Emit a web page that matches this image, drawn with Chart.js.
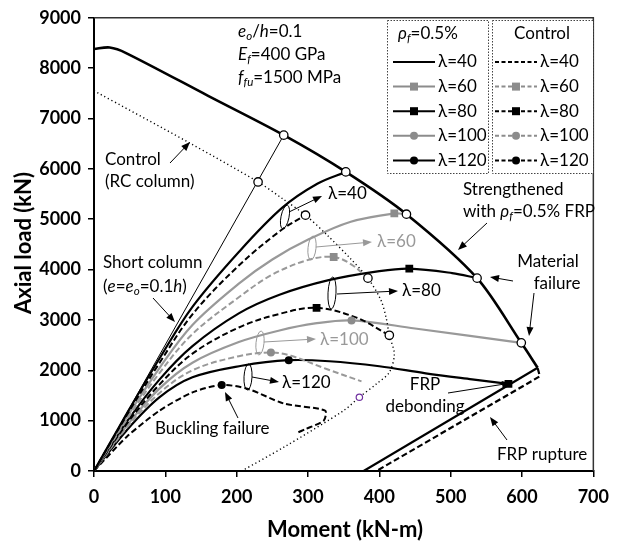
<!DOCTYPE html>
<html>
<head>
<meta charset="utf-8">
<script src="https://cdn.jsdelivr.net/npm/chart.js@4.4.1/dist/chart.umd.min.js"></script>
<style>
  html, body { margin: 0; padding: 0; background: #fff; }
</style>
</head>
<body>
<canvas id="chart" width="618" height="548"></canvas>
<script>
// axis ticks
const momentTicks = [0, 100, 200, 300, 400, 500, 600, 700];
const momentTickLabels = ['0', '100', '200', '300', '400', '500', '600', '700'];
const loadTicks = [0, 1000, 2000, 3000, 4000, 5000, 6000, 7000, 8000, 9000];
const loadTickLabels = ['0', '1000', '2000', '3000', '4000', '5000', '6000', '7000', '8000', '9000'];

// interaction diagrams [moment, load]
const frpEnvelope = [[0, 8380], [22, 8410], [45, 8300], [160, 7450], [266, 6670], [353, 5940], [438, 5100], [537, 3830], [599, 2545], [622, 2050]];
const frpLowerBranch = [[622, 2050], [378, 0]];
const ruptureBranch = [[622, 2040], [625, 1880], [396, 0]];
const controlRC = [[0, 7550], [132, 6530], [230, 5740], [265, 5400], [296.5, 5080], [326.5, 4690], [359, 4225], [384, 3830], [402, 3400], [409.5, 3045], [414, 2695], [421, 2320], [414, 1960], [396, 1730], [372, 1465], [350, 1200], [267, 480], [207, 0]];
const shortColumn = [[0, 0], [266, 6670]];

// load paths, FRP strengthened (frp) and control (ctl)
const frp40 = [[0, 0], [46, 1140], [92, 2240], [138, 3260], [203, 4350], [264, 5230], [313, 5705], [353, 5940]];
const ctl40 = [[0, 0], [46, 1110], [92, 2150], [138, 3110], [203, 4080], [264, 4800], [296.5, 5080]];
const frp60 = [[0, 0], [46, 1070], [92, 2050], [138, 2900], [203, 3720], [250, 4200], [301, 4600], [360, 4950], [421, 5115], [438, 5100]];
const ctl60 = [[0, 0], [46, 1020], [92, 1950], [138, 2720], [203, 3450], [250, 3900], [301, 4195], [336, 4250], [360, 4110], [384, 3830]];
const frp80 = [[0, 0], [46, 980], [92, 1820], [138, 2480], [203, 3130], [260, 3500], [329, 3790], [400, 3970], [442, 4020], [502, 3930], [537, 3830]];
const ctl80 = [[0, 0], [46, 940], [92, 1720], [138, 2330], [203, 2850], [260, 3120], [312, 3240], [368, 3045], [414, 2695]];
const frp100 = [[0, 0], [46, 900], [92, 1640], [138, 2150], [203, 2560], [260, 2790], [310, 2930], [361, 2990], [450, 2830], [599, 2545]];
const ctl100 = [[0, 0], [46, 860], [92, 1550], [138, 2000], [203, 2280], [248, 2355], [276, 2290], [326, 2025], [375, 1780]];
const frp120 = [[0, 0], [46, 810], [92, 1465], [138, 1860], [207, 2090], [273, 2200], [330, 2180], [400, 2080], [465, 1940], [530, 1820], [581, 1730]];
const ctl120 = [[0, 0], [46, 680], [92, 1200], [138, 1560], [179, 1710], [216, 1630], [266, 1340], [324, 1200], [322, 1000], [296, 830], [285, 760]];

// failure points
const openPoints = [[266, 6670], [230, 5740], [353, 5940], [296.5, 5080], [438, 5100], [384, 3830], [537, 3830], [414, 2695], [599, 2545]];
const graySquares = [[421, 5115], [336, 4250]];
const blackSquares = [[442, 4020], [312, 3240], [581, 1730]];
const grayDots = [[361, 2990], [248, 2355]];
const blackDots = [[273, 2200], [179, 1710]];
const purplePoint = [[372, 1465]];

const GRAY = '#999999';
const GRAYMK = '#8c8c8c';
const FONT = 'Lato, "Open Sans", sans-serif';

const xy = arr => arr.map(p => ({ x: p[0], y: p[1] }));

function line(data, color, width, dash, tension) {
  return {
    data: xy(data), showLine: true, borderColor: color, borderWidth: width,
    borderDash: dash || [], pointRadius: 0, tension: tension == null ? 0.35 : tension,
    fill: false, order: 2
  };
}
function marks(data, style, radius, fill, stroke, bw) {
  return {
    data: xy(data), showLine: false, pointStyle: style, pointRadius: radius,
    backgroundColor: fill, borderColor: stroke, borderWidth: bw, order: 0
  };
}

const DASH = [6, 3];
const datasets = [
  line(controlRC, '#000', 1.4, [1.2, 2.8], 0.3),
  line(shortColumn, '#000', 1, [], 0),
  line(frpEnvelope, '#000', 2.6, [], 0.3),
  line(frpLowerBranch, '#000', 2.2, [], 0),
  line(ruptureBranch, '#000', 2.2, DASH, 0),
  line(frp40, '#000', 2.2), line(ctl40, '#000', 2, DASH),
  line(frp60, GRAY, 2.2), line(ctl60, GRAY, 2, DASH),
  line(frp80, '#000', 2.2), line(ctl80, '#000', 2, DASH),
  line(frp100, GRAY, 2.2), line(ctl100, GRAY, 2, DASH),
  line(frp120, '#000', 2.2), line(ctl120, '#000', 2, DASH, 0.25),
  marks(openPoints, 'circle', 4.2, '#fff', '#000', 1.3),
  marks(graySquares, 'rect', 5.5, GRAYMK, GRAYMK, 0),
  marks(blackSquares, 'rect', 5.5, '#000', '#000', 0),
  marks(grayDots, 'circle', 4, GRAYMK, GRAYMK, 0),
  marks(blackDots, 'circle', 4, '#000', '#000', 0),
  marks(purplePoint, 'circle', 3.2, '#fff', '#7030a0', 1.2)
];

// text with italic / subscript runs
function rich(ctx, runs, x, y, size, color, align) {
  const pieces = runs.map(r => {
    const s = r.sub ? size * 0.68 : size;
    const f = (r.it ? 'italic ' : '') + s + 'px ' + FONT;
    ctx.font = f;
    return { t: r.t, f, w: ctx.measureText(r.t).width, dy: r.sub ? size * 0.28 : 0 };
  });
  const total = pieces.reduce((a, p) => a + p.w, 0);
  let cx = align === 'center' ? x - total / 2 : x;
  ctx.fillStyle = color || '#000';
  ctx.textBaseline = 'middle';
  ctx.textAlign = 'left';
  pieces.forEach(p => { ctx.font = p.f; ctx.fillText(p.t, cx, y + p.dy); cx += p.w; });
}
const T = (t, it, sub) => ({ t, it, sub });

function arrow(ctx, x1, y1, x2, y2, color) {
  const a = Math.atan2(y2 - y1, x2 - x1);
  ctx.strokeStyle = color; ctx.fillStyle = color; ctx.lineWidth = 1;
  ctx.setLineDash([]);
  ctx.beginPath(); ctx.moveTo(x1, y1); ctx.lineTo(x2 - 6 * Math.cos(a), y2 - 6 * Math.sin(a)); ctx.stroke();
  ctx.beginPath();
  ctx.moveTo(x2, y2);
  ctx.lineTo(x2 - 9 * Math.cos(a) + 3.5 * Math.sin(a), y2 - 9 * Math.sin(a) - 3.5 * Math.cos(a));
  ctx.lineTo(x2 - 9 * Math.cos(a) - 3.5 * Math.sin(a), y2 - 9 * Math.sin(a) + 3.5 * Math.cos(a));
  ctx.closePath(); ctx.fill();
}
function ellipse(ctx, x, y, rx, ry, rot, color) {
  ctx.strokeStyle = color; ctx.lineWidth = 1; ctx.setLineDash([]);
  ctx.beginPath(); ctx.ellipse(x, y, rx, ry, rot, 0, Math.PI * 2); ctx.stroke();
}

function legendSample(ctx, x1, x2, y, color, dash, marker) {
  ctx.save();
  ctx.strokeStyle = color; ctx.lineWidth = 2; ctx.setLineDash(dash);
  ctx.beginPath(); ctx.moveTo(x1, y); ctx.lineTo(x2, y); ctx.stroke();
  ctx.setLineDash([]); ctx.fillStyle = color;
  const cx = (x1 + x2) / 2;
  if (marker === 'rect') ctx.fillRect(cx - 4, y - 4, 8, 8);
  if (marker === 'circle') { ctx.beginPath(); ctx.arc(cx, y, 4, 0, Math.PI * 2); ctx.fill(); }
  ctx.restore();
}

const decor = {
  id: 'decor',
  afterDatasetsDraw(chart) {
    const ctx = chart.ctx;
    const a = chart.chartArea;
    ctx.save();
    // frame top / right
    ctx.strokeStyle = '#333'; ctx.lineWidth = 1.5;
    ctx.beginPath(); ctx.moveTo(a.left, a.top); ctx.lineTo(a.right, a.top); ctx.lineTo(a.right, a.bottom); ctx.stroke();

    // group ellipses
    ellipse(ctx, 285, 217, 4, 12, 0.2, '#000');
    ellipse(ctx, 312, 248, 4, 12, 0.1, GRAY);
    ellipse(ctx, 332, 293, 4, 16, 0.05, '#000');
    ellipse(ctx, 260, 343, 4, 12, 0.1, GRAY);
    ellipse(ctx, 248, 377, 4, 13, 0.05, '#000');

    // arrows
    arrow(ctx, 170, 163, 190, 142, '#000');
    arrow(ctx, 153, 298, 175, 322, '#000');
    arrow(ctx, 289, 212, 322, 196, '#000');
    arrow(ctx, 316, 247, 372, 242, GRAY);
    arrow(ctx, 337, 294, 398, 291, '#000');
    arrow(ctx, 264, 342, 316, 339, GRAY);
    arrow(ctx, 252, 377, 279, 382, '#000');
    arrow(ctx, 238, 418, 225, 392, '#000');
    arrow(ctx, 487, 223, 458, 250, '#000');
    arrow(ctx, 513, 281, 490, 277, '#000');
    arrow(ctx, 534, 293, 529, 336, '#000');
    arrow(ctx, 448, 393, 511, 383, '#000');
    arrow(ctx, 507, 440, 490, 417, '#000');

    // annotation text
    const S = 17;
    rich(ctx, [T('e', 1), T('o', 1, 1), T('/'), T('h', 1), T('=0.1')], 238, 32, S);
    rich(ctx, [T('E', 1), T('f', 1, 1), T('=400 GPa')], 238, 55, S);
    rich(ctx, [T('f', 1), T('fu', 1, 1), T('=1500 MPa')], 238, 78, S);
    rich(ctx, [T('Control')], 105, 160, S);
    rich(ctx, [T('(RC column)')], 105, 182, S);
    rich(ctx, [T('Short column')], 103, 263, S);
    rich(ctx, [T('('), T('e', 1), T('='), T('e', 1), T('o', 1, 1), T('=0.1'), T('h', 1), T(')')], 103, 287, S);
    rich(ctx, [T('λ=40')], 328, 194, S);
    rich(ctx, [T('λ=60')], 377, 242, S, GRAY);
    rich(ctx, [T('λ=80')], 402, 291, S);
    rich(ctx, [T('λ=100')], 320, 340, S, GRAY);
    rich(ctx, [T('λ=120')], 282, 383, S);
    rich(ctx, [T('Buckling failure')], 155, 429, S);
    rich(ctx, [T('Strengthened')], 463, 190, S);
    rich(ctx, [T('with '), T('ρ', 1), T('f', 1, 1), T('=0.5% FRP')], 463, 212, S);
    rich(ctx, [T('Material')], 548, 262, S, '#000', 'center');
    rich(ctx, [T('failure')], 557, 284, S, '#000', 'center');
    rich(ctx, [T('FRP')], 425, 385, S, '#000', 'center');
    rich(ctx, [T('debonding')], 425, 407, S, '#000', 'center');
    rich(ctx, [T('FRP rupture')], 497, 455, S);

    // legend boxes
    ctx.fillStyle = '#fff';
    ctx.fillRect(387, 20, 206, 154);
    ctx.strokeStyle = '#444'; ctx.lineWidth = 1; ctx.setLineDash([1.5, 1.5]);
    ctx.strokeRect(387.5, 20.5, 101, 153);
    ctx.strokeRect(492.5, 20.5, 101, 153);
    ctx.setLineDash([]);
    rich(ctx, [T('ρ', 1), T('f', 1, 1), T('=0.5%')], 398, 34, S);
    rich(ctx, [T('Control')], 542, 34, S, '#000', 'center');
    const rows = [
      ['λ=40', '#000', null], ['λ=60', GRAYMK, 'rect'], ['λ=80', '#000', 'rect'],
      ['λ=100', GRAYMK, 'circle'], ['λ=120', '#000', 'circle']
    ];
    rows.forEach((r, i) => {
      const y = 62 + i * 24.6;
      legendSample(ctx, 393, 435, y, r[1], [], r[2]);
      rich(ctx, [T(r[0])], 438, y, S);
      legendSample(ctx, 495, 537, y, r[1], [4, 2.5], r[2]);
      rich(ctx, [T(r[0])], 540, y, S);
    });

    // axis titles
    ctx.fillStyle = '#000';
    ctx.font = 'bold 22px ' + FONT;
    ctx.textAlign = 'center'; ctx.textBaseline = 'middle';
    ctx.fillText('Moment (kN-m)', 345, 530);
    ctx.translate(24, 243);
    ctx.rotate(-Math.PI / 2);
    ctx.fillText('Axial load (kN)', 0, 0);
    ctx.restore();
  }
};

new Chart(document.getElementById('chart'), {
  type: 'scatter',
  data: { datasets },
  plugins: [decor],
  options: {
    responsive: false,
    devicePixelRatio: 1,
    animation: false,
    events: [],
    layout: { padding: { top: 15, right: 18, left: 0, bottom: 0 } },
    plugins: { legend: { display: false }, tooltip: { enabled: false } },
    scales: {
      x: {
        type: 'linear', min: 0, max: 700,
        afterBuildTicks: s => { s.ticks = momentTicks.map(v => ({ value: v })); },
        afterFit: s => { s.height = 77; },
        grid: { display: true, drawOnChartArea: false, drawTicks: true, tickLength: 6, color: '#000', lineWidth: 1.5 },
        border: { color: '#000', width: 2 },
        ticks: {
          color: '#000', padding: 9, maxRotation: 0,
          font: { family: FONT, size: 18, weight: 'bold' },
          callback: (v, i) => momentTickLabels[i]
        }
      },
      y: {
        type: 'linear', min: 0, max: 9000,
        afterBuildTicks: s => { s.ticks = loadTicks.map(v => ({ value: v })); },
        afterFit: s => { s.width = 94; },
        grid: { display: true, drawOnChartArea: false, drawTicks: true, tickLength: 6, color: '#000', lineWidth: 1.5 },
        border: { color: '#000', width: 2 },
        ticks: {
          color: '#000', padding: 7,
          font: { family: FONT, size: 18, weight: 'bold' },
          callback: (v, i) => loadTickLabels[i]
        }
      }
    }
  }
});
</script>
</body>
</html>
